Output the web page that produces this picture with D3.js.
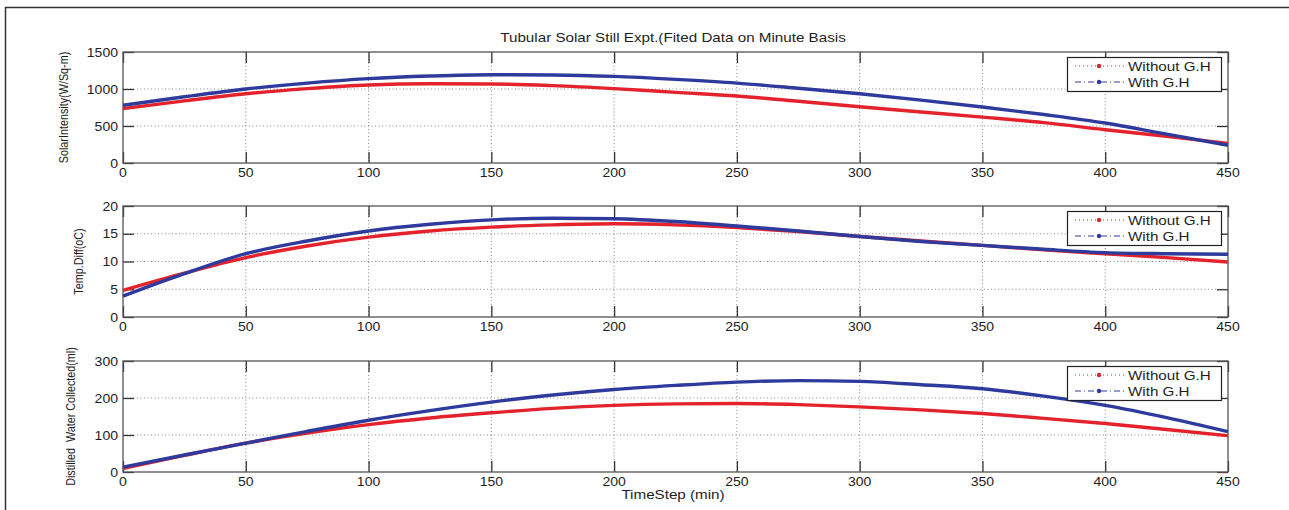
<!DOCTYPE html>
<html>
<head>
<meta charset="utf-8">
<script src="https://cdn.jsdelivr.net/npm/d3@7"></script>
<style>
    body { margin: 0; background: #fff; }
    text { font-family: "Liberation Sans", Arial, sans-serif; fill: #1e1e1e; }
</style>
</head>
<body>
<div id="chart"></div>
<script>
// minutes, read every 25 min off the picture
let timeSteps = [0, 25, 50, 75, 100, 125, 150, 175, 200, 225, 250, 275, 300, 325, 350, 375, 400, 425, 450];
let xTicks = [0, 50, 100, 150, 200, 250, 300, 350, 400, 450];

let solarWithout = [735, 840, 935, 1005, 1055, 1070, 1068, 1045, 1005, 955, 905, 835, 760, 690, 620, 545, 450, 360, 265];
let solarWith = [780, 895, 1000, 1080, 1140, 1175, 1193, 1190, 1170, 1130, 1080, 1010, 935, 850, 757, 655, 540, 390, 240];

let tempWithout = [4.8, 7.9, 10.7, 12.8, 14.4, 15.5, 16.2, 16.6, 16.8, 16.6, 16.1, 15.4, 14.5, 13.7, 12.9, 12.1, 11.4, 10.7, 9.9];
let tempWith = [3.75, 7.8, 11.4, 13.7, 15.5, 16.7, 17.5, 17.8, 17.7, 17.2, 16.4, 15.5, 14.5, 13.6, 12.9, 12.2, 11.6, 11.4, 11.3];

let waterWithout = [10, 45, 78, 105, 128, 146, 160, 172, 180, 184, 185, 182, 176, 168, 158, 145, 131, 115, 98];
let waterWith = [13, 46, 78, 110, 140, 166, 189, 208, 223, 234, 243, 247, 245, 236, 225, 205, 180, 147, 109];

let seriesNames = ["Without G.H", "With G.H"];
let chartTitle = "Tubular Solar Still Expt.(Fited Data on Minute Basis";
let xLabel = "TimeStep (min)";

let panels = [
    {label: "SolarIntensity(W/Sq-m)", yMax: 1500, yTicks: [0, 500, 1000, 1500], without: solarWithout, with: solarWith},
    {label: "Temp.Diff(oC)", yMax: 20, yTicks: [0, 5, 10, 15, 20], without: tempWithout, with: tempWith},
    {label: "Distilled  Water Collected(ml)", yMax: 300, yTicks: [0, 100, 200, 300], without: waterWithout, with: waterWith}
];

let W = 1289, H = 510;
let left = 123, right = 1228;
let panelTops = [52, 206, 361];
let panelH = 111;
let labelX = [68, 83, 75];
let stretch = 1.17; // picture text is a bit wide
let red = "#e3222c", blue = "#2e3a9c";

let svg = d3.select("#chart").append("svg")
    .attr("width", W)
    .attr("height", H);

// outer frame (only left and top show)
svg.append("path")
    .attr("d", "M5.5," + H + "V7.5H" + W)
    .attr("fill", "none")
    .attr("stroke", "#333")
    .attr("stroke-width", 1.5);

function hText(x, y, str, anchor, size) {
    return svg.append("text")
        .attr("transform", "translate(" + x + "," + y + ") scale(" + stretch + ",1)")
        .attr("text-anchor", anchor || "middle")
        .attr("font-size", size || 12)
        .text(str);
}

hText(673, 42, chartTitle, "middle", 13);
hText(673, 499, xLabel, "middle", 13);

let x = d3.scaleLinear().domain([0, 450]).range([left, right]);

panels.forEach(function (p, i) {
    let top = panelTops[i];
    let bottom = top + panelH;
    let y = d3.scaleLinear().domain([0, p.yMax]).range([bottom, top]);
    let g = svg.append("g");

    // dotted grid
    g.selectAll(".vgrid").data(xTicks.slice(1, -1)).enter().append("line")
        .attr("x1", d => x(d)).attr("x2", d => x(d))
        .attr("y1", top).attr("y2", bottom)
        .attr("stroke", "#8a8a8a").attr("stroke-dasharray", "1,2.5");
    g.selectAll(".hgrid").data(p.yTicks.slice(1, -1)).enter().append("line")
        .attr("x1", left).attr("x2", right)
        .attr("y1", d => y(d)).attr("y2", d => y(d))
        .attr("stroke", "#8a8a8a").attr("stroke-dasharray", "1,2.5");

    // inward ticks on all four sides, matlab style
    let tl = 11;
    let axB = g.append("g").attr("transform", "translate(0," + bottom + ")")
        .call(d3.axisBottom(x).tickValues(xTicks).tickSizeInner(-tl).tickSizeOuter(0).tickFormat(""));
    let axT = g.append("g").attr("transform", "translate(0," + top + ")")
        .call(d3.axisTop(x).tickValues(xTicks).tickSizeInner(-tl).tickSizeOuter(0).tickFormat(""));
    let axL = g.append("g").attr("transform", "translate(" + left + ",0)")
        .call(d3.axisLeft(y).tickValues(p.yTicks).tickSizeInner(-tl).tickSizeOuter(0).tickFormat(""));
    let axR = g.append("g").attr("transform", "translate(" + right + ",0)")
        .call(d3.axisRight(y).tickValues(p.yTicks).tickSizeInner(-tl).tickSizeOuter(0).tickFormat(""));
    [axB, axT, axL, axR].forEach(function (a) {
        a.select(".domain").remove();
        a.selectAll("line").attr("stroke", "#333").attr("stroke-width", 1.3);
    });

    g.append("rect")
        .attr("x", left).attr("y", top)
        .attr("width", right - left).attr("height", panelH)
        .attr("fill", "none").attr("stroke", "#555").attr("stroke-width", 1.3);

    // tick labels
    xTicks.forEach(function (t) {
        hText(x(t), bottom + 14, t);
    });
    p.yTicks.forEach(function (t) {
        hText(118, y(t) + 4.5, t, "end");
    });

    svg.append("text")
        .attr("transform", "translate(" + labelX[i] + "," + (top + panelH / 2) + ") scale(1.15,1) rotate(-90)")
        .attr("text-anchor", "middle")
        .attr("font-size", 10.8)
        .style("white-space", "pre")
        .text(p.label);

    let line = d3.line()
        .x((d, k) => x(timeSteps[k]))
        .y(d => y(d))
        .curve(d3.curveMonotoneX);

    g.append("path").datum(p.without)
        .attr("d", line).attr("fill", "none")
        .attr("stroke", red).attr("stroke-width", 3.4);
    g.append("path").datum(p.with)
        .attr("d", line).attr("fill", "none")
        .attr("stroke", blue).attr("stroke-width", 3.4);

    // legend
    let lx = 1067, ly = top + 5, lw = 154, lh = 34;
    let lg = svg.append("g");
    lg.append("rect")
        .attr("x", lx + 0.5).attr("y", ly + 0.5)
        .attr("width", lw).attr("height", lh)
        .attr("fill", "#fff").attr("stroke", "#222").attr("stroke-width", 1.2);
    let styles = [
        {color: red, dash: "1,3"},
        {color: blue, dash: "6,3,1,3"}
    ];
    seriesNames.forEach(function (name, k) {
        let ry = ly + 9 + k * 16;
        lg.append("line")
            .attr("x1", lx + 8).attr("x2", lx + 58)
            .attr("y1", ry).attr("y2", ry)
            .attr("stroke", styles[k].color).attr("stroke-width", 1.2)
            .attr("stroke-dasharray", styles[k].dash);
        lg.append("circle")
            .attr("cx", lx + 32).attr("cy", ry).attr("r", 2.2)
            .attr("fill", styles[k].color);
        lg.append("text")
            .attr("transform", "translate(" + (lx + 61) + "," + (ry + 4.5) + ") scale(" + stretch + ",1)")
            .attr("font-size", 13)
            .text(name);
    });
});
</script>
</body>
</html>
